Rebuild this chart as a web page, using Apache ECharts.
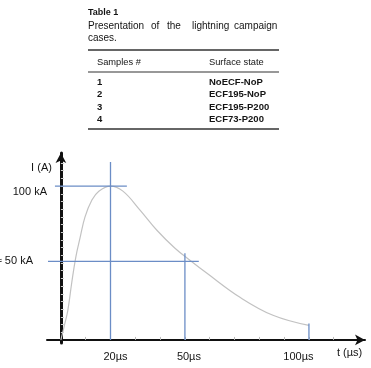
<!DOCTYPE html>
<html>
<head>
<meta charset="utf-8">
<script src="https://cdn.jsdelivr.net/npm/echarts@6/dist/echarts.min.js"></script>
<style>
html,body{margin:0;padding:0;background:#fff;}
#c{width:371px;height:368px;}
</style>
</head>
<body>
<div id="c"></div>
<script>
// ---- Table data ----
const tableTitle = 'Table 1';
const captionWords = ['Presentation', 'of', 'the', 'lightning', 'campaign'];
const captionLine2 = 'cases.';
const tableHeaders = ['Samples #', 'Surface state'];
const sampleIds = ['1', '2', '3', '4'];
const surfaceStates = ['NoECF-NoP', 'ECF195-NoP', 'ECF195-P200', 'ECF73-P200'];

// ---- Waveform data (t in µs, I in kA) ----
const curveT = [0, 1.6, 2.8, 4.4, 6.0, 7.7, 9.7, 12.5, 15.3, 20, 25, 31.9, 38.7, 46, 52, 58.9, 72.2, 85.5, 100];
const curveI = [0, 10.7, 19.2, 37.5, 53.7, 66.1, 79.8, 90.9, 96.7, 100, 96.7, 84.4, 71.3, 59.6, 51.8, 43.3, 27.7, 16, 9.4];
const peakLevel = 100;      // kA
const halfLevel = 51;       // kA (≈ 50 kA)
const peakLineT = [-2.4, 26.6];   // horizontal guide extent at peak (µs)
const halfLineT = [-5.2, 55.6];   // horizontal guide extent at half (µs)
const markTimes = [20, 50, 100];  // µs
const markTops = [115.6, 56.4, 10.7]; // kA, top of each vertical guide
const xTickLabels = ['20µs', '50µs', '100µs'];
const yTickValues = [halfLevel, peakLevel];
const yTickLabels = ['≈ 50 kA', '100 kA'];

const FONT = '"Liberation Sans", Arial, sans-serif';
const BLUE = '#6b8dc6';
const INK = '#141414';

// ---- Table graphics ----
const g = [];
function txt(text, x, y, size, bold, align) {
  g.push({type: 'text', style: {text: text, x: x, y: y, font: (bold ? 'bold ' : '') + size + 'px ' + FONT,
    fill: INK, textAlign: align || 'left', textVerticalAlign: 'middle'}});
}
function rule(y, w) {
  g.push({type: 'line', shape: {x1: 88, y1: y, x2: 279, y2: y}, style: {stroke: '#333', lineWidth: w}});
}
txt(tableTitle, 88, 13, 9, true);
const captionX = [88, 151, 167, 192, 234];
captionWords.forEach((w, i) => txt(w, captionX[i], 26, 10, false));
txt(captionLine2, 88, 38, 10, false);
rule(50, 1.6);
txt(tableHeaders[0], 97, 62, 9.3, false);
txt(tableHeaders[1], 209, 62, 9.3, false);
rule(72, 1.1);
const rowY = [82, 94.5, 107, 119.5];
sampleIds.forEach((s, i) => {
  txt(s, 97, rowY[i], 9.5, true);
  txt(surfaceStates[i], 209, rowY[i], 9.5, true);
});
rule(129, 1.6);

// ---- Series ----
const series = [];
series.push({
  type: 'line', data: curveT.map((t, i) => [t, curveI[i]]), smooth: 0.4, showSymbol: false,
  lineStyle: {color: '#c2c2c2', width: 1.2}, z: 2, silent: true
});
function seg(data) {
  series.push({type: 'line', data: data, showSymbol: false, lineStyle: {color: BLUE, width: 1.3}, z: 3, silent: true});
}
seg([[peakLineT[0], peakLevel], [peakLineT[1], peakLevel]]);
seg([[halfLineT[0], halfLevel], [halfLineT[1], halfLevel]]);
markTimes.forEach((t, i) => seg([[t, 0], [t, markTops[i]]]));

// ---- Chart ----
const chart = echarts.init(document.getElementById('c'), null, {renderer: 'canvas'});
const xShift = [10, 8, 0];
const xShiftR = [0, 0, 21];
const ticksX = []; for (let v = 10; v <= 120; v += 10) ticksX.push(v);
const ticksY = []; for (let v = 5; v <= 115; v += 5) ticksY.push(v);
chart.setOption({
  animation: false,
  backgroundColor: '#fff',
  grid: {left: 47, right: 6, top: 153, bottom: 25, containLabel: false, outerBoundsMode: 'none'},
  xAxis: {
    type: 'value', min: -5.6, max: 122.6,
    axisLine: {onZero: true, symbol: ['none', 'arrow'], symbolSize: [8, 10], lineStyle: {color: '#111', width: 2}},
    axisTick: {show: true, inside: true, length: 3, customValues: ticksX, lineStyle: {color: '#bbb', width: 1}},
    splitLine: {show: false},
    axisLabel: {
      customValues: markTimes, margin: 8, color: INK, fontFamily: FONT, fontSize: 11,
      formatter: function (v) {
        const i = markTimes.indexOf(v);
        return '{p' + i + '|' + xTickLabels[i] + '}';
      },
      rich: {
        p0: {padding: [0, xShiftR[0], 0, xShift[0]], fontFamily: FONT, fontSize: 11, color: INK},
        p1: {padding: [0, xShiftR[1], 0, xShift[1]], fontFamily: FONT, fontSize: 11, color: INK},
        p2: {padding: [0, xShiftR[2], 0, xShift[2]], fontFamily: FONT, fontSize: 11, color: INK}
      }
    },
    name: 't (µs)', nameLocation: 'end', nameGap: -28,
    nameTextStyle: {fontFamily: FONT, fontSize: 11, color: INK, align: 'left', verticalAlign: 'top', padding: [8, 0, 0, 0]}
  },
  yAxis: {
    type: 'value', min: -2, max: 121.5,
    axisLine: {onZero: true, symbol: ['none', 'arrow'], symbolSize: [8, 10], lineStyle: {color: '#111', width: 3}},
    axisTick: {show: true, inside: true, length: 3, customValues: ticksY, lineStyle: {color: '#ccc', width: 1}},
    splitLine: {show: false},
    axisLabel: {
      customValues: yTickValues, margin: 0, color: INK, fontFamily: FONT, fontSize: 11,
      formatter: function (v) {
        return v === peakLevel ? '{a|' + yTickLabels[1] + '}' : '{b|' + yTickLabels[0] + '}';
      },
      rich: {
        a: {padding: [12, 0, 0, 0], fontFamily: FONT, fontSize: 11, color: INK},
        b: {padding: [0, 14, 0, 0], fontFamily: FONT, fontSize: 11, color: INK}
      }
    },
    name: 'I (A)', nameLocation: 'end', nameGap: -15,
    nameTextStyle: {fontFamily: FONT, fontSize: 11, color: INK, align: 'right', verticalAlign: 'middle', padding: [0, 9, 0, 0]}
  },
  series: series,
  graphic: g
});
</script>
</body>
</html>
